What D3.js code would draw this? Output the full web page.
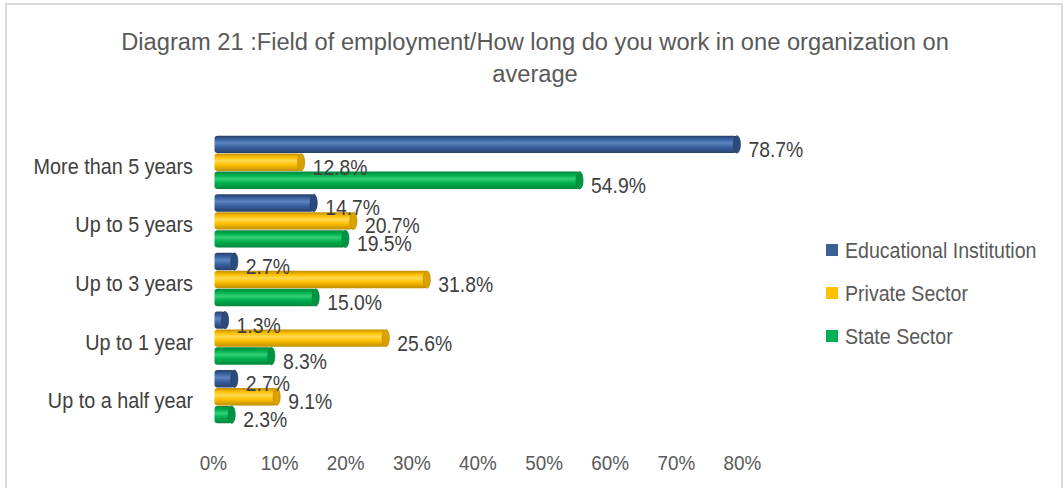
<!DOCTYPE html>
<html>
<head>
<meta charset="utf-8">
<script src="https://cdn.jsdelivr.net/npm/d3@7"></script>
<style>
  html, body { margin: 0; padding: 0; background: #fff; }
  svg { display: block; font-family: "Liberation Sans", Arial, sans-serif; }
</style>
</head>
<body>
<svg id="chart" width="1064" height="488"></svg>
<script>
// Categories (top to bottom) and the three series, as shares
const categories = ["More than 5 years", "Up to 5 years", "Up to 3 years", "Up to 1 year", "Up to a half year"];
const seriesNames = ["Educational Institution", "Private Sector", "State Sector"];
const educational = [0.787, 0.147, 0.027, 0.013, 0.027];
const privateSector = [0.128, 0.207, 0.318, 0.256, 0.091];
const stateSector = [0.549, 0.195, 0.150, 0.083, 0.023];
const tickValues = [0, 0.1, 0.2, 0.3, 0.4, 0.5, 0.6, 0.7, 0.8];
const titleLines = ["Diagram 21 :Field of employment/How long do you work in one organization on", "average"];

const seriesValues = [educational, privateSector, stateSector];
const palette = [
  { base: "#3B62A0", light: "#5C84C0", dark: "#263F69", cap: "#2C4A7C", legend: "#3A5F95" },
  { base: "#FFC000", light: "#FFDA55", dark: "#C08E00", cap: "#D9A200", legend: "#FFC000" },
  { base: "#00B050", light: "#33D176", dark: "#00863A", cap: "#009444", legend: "#00B050" }
];

const svg = d3.select("#chart");

// Narrow text: anchored at (x, y), squeezed horizontally
function placeText(sel, fx, fy, sx) {
  sel.attr("transform", (d, i) => `translate(${fx(d, i)},${fy(d, i)}) scale(${sx},1)`);
}

// Chart frame
svg.append("rect")
  .attr("x", 6).attr("y", 4).attr("width", 1056).attr("height", 490)
  .attr("fill", "#fff").attr("stroke", "#d9d9d9").attr("stroke-width", 2);

// Title
svg.append("g").selectAll("text")
  .data(titleLines)
  .join("text")
  .call(placeText, () => 535, (d, i) => 50 + i * 32, 0.967)
  .attr("text-anchor", "middle")
  .attr("font-size", 24.5)
  .attr("fill", "#595959")
  .text(d => d);

// Scales
const x = d3.scaleLinear().domain([0, 0.8]).range([216.5, 745.5]);
const y = d3.scaleBand().domain(categories).range([133, 426]).paddingInner(0.09).paddingOuter(0.045);
const ySeries = d3.scaleBand().domain(seriesNames).range([0, y.bandwidth()]).paddingInner(0.03);

// Cylinder shading gradients
const defs = svg.append("defs");
palette.forEach((p, i) => {
  const g = defs.append("linearGradient")
    .attr("id", "cyl" + i)
    .attr("x1", 0).attr("y1", 0).attr("x2", 0).attr("y2", 1);
  g.append("stop").attr("offset", "0%").attr("stop-color", p.dark);
  g.append("stop").attr("offset", "22%").attr("stop-color", p.base);
  g.append("stop").attr("offset", "42%").attr("stop-color", p.light);
  g.append("stop").attr("offset", "65%").attr("stop-color", p.base);
  g.append("stop").attr("offset", "100%").attr("stop-color", p.dark);
});

// Category axis labels
svg.append("g").selectAll("text")
  .data(categories)
  .join("text")
  .call(placeText, () => 193, d => y(d) + y.bandwidth() / 2 + 11.5, 0.9)
  .attr("text-anchor", "end")
  .attr("font-size", 22)
  .attr("fill", "#404040")
  .text(d => d);

// Value axis tick labels
svg.append("g").selectAll("text")
  .data(tickValues)
  .join("text")
  .call(placeText, d => x(d) - 3, () => 470, 0.9)
  .attr("text-anchor", "middle")
  .attr("font-size", 21)
  .attr("fill", "#595959")
  .text(d3.format(".0%"));

// Bars
const rows = [];
categories.forEach((c, ci) => {
  seriesNames.forEach((s, si) => {
    rows.push({ cat: c, series: s, si: si, value: seriesValues[si][ci] });
  });
});
const barTop = d => y(d.cat) + ySeries(d.series);

const capRx = 3.5;
const bar = svg.append("g").selectAll("g.bar")
  .data(rows)
  .join("g")
  .attr("class", "bar")
  .attr("transform", d => `translate(0,${barTop(d)})`);

bar.append("rect")
  .attr("x", x(0) - 2)
  .attr("y", 0)
  .attr("width", d => Math.max(0, x(d.value) - x(0) + 2))
  .attr("height", ySeries.bandwidth())
  .attr("rx", 3)
  .attr("fill", d => `url(#cyl${d.si})`);

bar.append("ellipse")
  .attr("cx", d => x(d.value))
  .attr("cy", ySeries.bandwidth() / 2)
  .attr("rx", capRx)
  .attr("ry", ySeries.bandwidth() / 2)
  .attr("fill", d => palette[d.si].cap)
  .attr("stroke", d => palette[d.si].dark)
  .attr("stroke-width", 0.8);

// Data labels, drawn above all bars
svg.append("g").selectAll("text")
  .data(rows)
  .join("text")
  .call(placeText, d => x(d.value) + capRx + 8, d => barTop(d) + ySeries.bandwidth() / 2 + 12.5, 0.9)
  .attr("font-size", 21.5)
  .attr("fill", "#404040")
  .text(d => d3.format(".1%")(d.value));

// Legend
const legend = svg.append("g").selectAll("g")
  .data(seriesNames)
  .join("g")
  .attr("transform", (d, i) => `translate(826,${250 + i * 43})`);
legend.append("rect")
  .attr("x", 0).attr("y", -6)
  .attr("width", 12).attr("height", 12)
  .attr("fill", (d, i) => palette[i].legend);
legend.append("text")
  .call(placeText, () => 19, () => 8, 0.89)
  .attr("font-size", 22)
  .attr("fill", "#595959")
  .text(d => d);
</script>
</body>
</html>
